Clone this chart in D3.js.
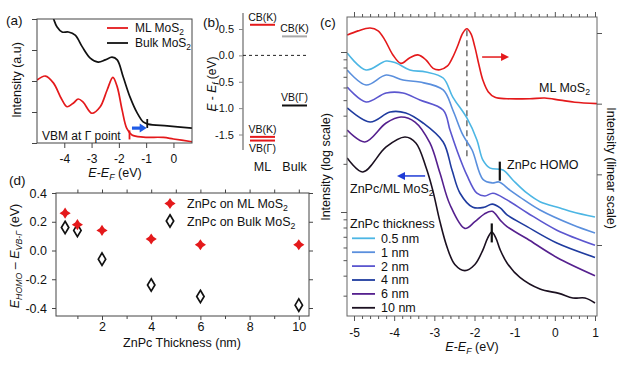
<!DOCTYPE html>
<html><head><meta charset="utf-8">
<script src="https://cdn.jsdelivr.net/npm/d3@7"></script>
<style>
html,body{margin:0;padding:0;background:#fff;}
svg{display:block;}
</style></head><body>
<svg id="chart" width="627" height="365"></svg>
<script>
// ---------------- DATA ----------------
// (a) photoemission spectra, E-EF (eV) vs intensity (a.u.)
const aML = [[-5.0,2.03],[-4.69,2.16],[-4.40,1.94],[-4.10,1.42],[-3.90,1.17],[-3.65,1.30],[-3.49,1.42],[-3.31,1.32],[-2.99,0.96],[-2.69,1.16],[-2.43,1.71],[-2.22,2.12],[-2.06,1.81],[-1.88,1.06],[-1.71,0.47],[-1.52,0.26],[-1.11,0.19],[-0.37,0.18],[0.0,0.13],[0.68,0.04]];
const aBulk = [[-4.6,4.6],[-4.39,4.0],[-4.27,3.75],[-4.08,3.58],[-3.85,3.58],[-3.60,3.48],[-3.34,3.10],[-3.05,2.74],[-2.76,2.61],[-2.50,2.68],[-2.25,2.77],[-2.06,2.68],[-1.84,2.13],[-1.59,1.48],[-1.33,0.97],[-1.11,0.68],[-0.93,0.61],[-0.23,0.55],[0.68,0.48]];
const aXTicks = [-4,-3,-2,-1,0];
const aYTicks = [0,1,2,3,4];
const aVbmML = [-1.61,0.26];
const aVbmBulk = [-0.96,0.63];
const aArrow = [-1.52,-0.98,0.48];
const aLegend = ["ML MoS", "Bulk MoS"];

// (b) band levels (eV)
const bCats = ["ML","Bulk"];
const bLevelCat = ["ML","ML","ML","Bulk","Bulk"];
const bLevelE = [0.58,-1.545,-1.615,0.36,-0.95];
const bLevelName = ["CB(K)","VB(K)","VB(Γ)","CB(K)","VB(Γ)"];
const bTicks = [-1.5,-1.0,-0.5,0.0,0.5];

// (c) spectra: E-EF (eV) vs intensity (log scale for ZnPc, linear for ML MoS2)
const cML = [[-5.17,2.97],[-4.90,3.03],[-4.60,3.07],[-4.40,3.03],[-4.23,2.90],[-4.03,2.69],[-3.83,2.57],[-3.61,2.65],[-3.41,2.69],[-3.21,2.62],[-3.03,2.50],[-2.86,2.48],[-2.68,2.53],[-2.54,2.66],[-2.41,2.83],[-2.29,3.0],[-2.19,3.06],[-2.09,2.99],[-1.99,2.80],[-1.89,2.55],[-1.79,2.33],[-1.66,2.17],[-1.49,2.09],[-1.19,2.07],[-0.62,2.07],[-0.25,2.08],[0.13,2.05],[0.50,2.02],[1.05,2.0]];
const c05 = [[-5.17,9.86],[-4.70,7.72],[-4.20,8.78],[-3.95,8.53],[-3.61,7.72],[-3.21,7.50],[-2.78,6.88],[-2.54,5.23],[-2.19,3.87],[-1.94,2.82],[-1.79,2.11],[-1.61,1.88],[-1.29,1.83],[-1.04,1.58],[-0.69,1.31],[-0.37,1.16],[0.13,1.06],[0.45,1.0],[1.0,0.93]];
const c1 = [[-5.17,7.72],[-4.70,6.22],[-4.20,7.18],[-3.78,6.68],[-3.36,6.49],[-2.78,5.79],[-2.54,4.34],[-2.29,3.03],[-2.06,2.44],[-1.79,1.60],[-1.56,1.52],[-1.39,1.54],[-1.12,1.37],[-0.87,1.24],[-0.37,1.03],[0.45,0.83],[1.0,0.74]];
const c2 = [[-5.17,6.04],[-4.70,4.87],[-4.20,5.54],[-3.78,5.54],[-3.36,5.01],[-2.78,4.34],[-2.61,3.25],[-2.44,2.44],[-2.19,1.70],[-1.94,1.31],[-1.74,1.26],[-1.54,1.31],[-1.19,1.19],[-0.69,0.99],[0.05,0.77],[1.0,0.62]];
const c4 = [[-5.17,4.47],[-4.60,3.65],[-4.10,4.22],[-3.71,4.16],[-3.28,3.60],[-2.78,2.74],[-2.56,1.83],[-2.36,1.31],[-2.04,1.07],[-1.76,1.07],[-1.56,1.12],[-1.36,1.06],[-1.19,0.96],[-0.69,0.81],[0.05,0.64],[1.0,0.52]];
const c6 = [[-5.17,3.25],[-4.73,2.74],[-4.20,3.60],[-3.83,3.92],[-3.48,3.65],[-3.11,2.70],[-2.86,1.75],[-2.61,1.11],[-2.24,0.79],[-1.99,0.87],[-1.76,0.97],[-1.56,1.01],[-1.36,0.89],[-1.19,0.81],[-0.69,0.68],[0.05,0.52],[1.0,0.40]];
const c10 = [[-5.17,2.18],[-4.78,1.78],[-4.20,2.55],[-3.73,2.94],[-3.46,2.70],[-3.21,1.91],[-3.04,1.37],[-2.86,0.87],[-2.68,0.60],[-2.49,0.47],[-2.24,0.43],[-1.99,0.47],[-1.79,0.58],[-1.67,0.69],[-1.57,0.75],[-1.47,0.69],[-1.36,0.58],[-1.19,0.48],[-0.87,0.39],[-0.37,0.33],[0.10,0.31],[0.45,0.29],[0.75,0.29],[1.0,0.27]];
const cThickLabels = ["0.5 nm","1 nm","2 nm","4 nm","6 nm","10 nm"];
const cColors = ["#4cb6e4","#5a8fdd","#5b56cf","#1f3b9f","#55208e","#1b1020"];
const cXTicks = [-5,-4,-3,-2,-1,0,1];
const cLogTicks = [0.3,0.4,0.5,0.6,0.7,0.8,0.9,1,2,3,4,5,6,7,8,9,10];
const cLinTicks = [0,1,2,3];
const cDash = [-2.19,3.04,1.25];
const cHomo = [[-1.37,1.80],[-1.57,0.74]];
const cRedArrow = [-1.81,-1.14,2.66];
const cBlueArrow = [-3.23,-3.93,1.68];

// (d) HOMO offset vs thickness
const dThick = [0.5,1,2,4,6,10];
const dML = [0.26,0.18,0.14,0.08,0.04,0.04];
const dBulk = [0.16,0.14,-0.06,-0.24,-0.32,-0.38];
const dXTicks = [2,4,6,8,10];
const dXAll = [1,2,3,4,5,6,7,8,9,10];
const dYTicks = [-0.4,-0.2,0.0,0.2,0.4];

// ---------------- HELPERS ----------------
const FONT = '"Liberation Sans", Arial, Helvetica, sans-serif';
const RED = "#e4191b";
const svg = d3.select('#chart').attr('font-family', FONT);
svg.append('rect').attr('width',627).attr('height',365).attr('fill','#fff');

function rich(g, x, y, segs, size, anchor, rot, fill) {
  const t = g.append('text')
    .attr('transform', `translate(${x},${y})` + (rot ? ` rotate(${rot})` : ''))
    .attr('font-size', size).attr('text-anchor', anchor || 'start')
    .attr('fill', fill || '#111');
  let shift = 0;
  segs.forEach(s => {
    const txt = typeof s === 'string' ? s : s[0];
    const st = typeof s === 'string' ? '' : s[1];
    const sp = t.append('tspan').text(txt);
    let target = 0;
    if (st.includes('s')) { target = size * 0.26; sp.attr('font-size', size * 0.7); }
    if (st.includes('i')) sp.attr('font-style', 'italic');
    sp.attr('dy', target - shift); shift = target;
  });
  return t;
}
function drawAxis(g, gen, tx, ty, fs, col) {
  const a = g.append('g').attr('transform', `translate(${tx},${ty})`).call(gen);
  a.attr('font-family', null).attr('font-size', null);
  a.select('.domain').remove();
  a.selectAll('.tick line').attr('stroke', col || '#444').attr('stroke-width', 1);
  a.selectAll('.tick text').attr('font-size', fs || 12).attr('fill', '#111');
  return a;
}
function clip(id, x, y, w, h) {
  svg.append('clipPath').attr('id', id).append('rect').attr('x',x).attr('y',y).attr('width',w).attr('height',h);
}
function arrow(g, x1, x2, y, col, w, hl, hw) {
  const dir = Math.sign(x2 - x1);
  g.append('line').attr('x1',x1).attr('x2',x2 - dir*hl*0.8).attr('y1',y).attr('y2',y)
    .attr('stroke',col).attr('stroke-width',w);
  g.append('path').attr('d', `M${x2},${y}L${x2-dir*hl},${y-hw}L${x2-dir*hl},${y+hw}Z`).attr('fill',col);
}

// ---------------- PANEL (a) ----------------
{
  const g = svg.append('g');
  const xA = d3.scaleLinear().domain([-5, 0.68]).range([37, 192]);
  const yA = d3.scaleLinear().domain([0, 4]).range([143, 19]);
  clip('clipA', 37, 19, 155, 124);
  const line = d3.line().x(d => xA(d[0])).y(d => yA(d[1])).curve(d3.curveCatmullRom.alpha(0.5));
  const cg = g.append('g').attr('clip-path','url(#clipA)');
  cg.append('path').attr('d', line(aBulk)).attr('fill','none').attr('stroke','#111').attr('stroke-width',1.7);
  cg.append('path').attr('d', line(aML)).attr('fill','none').attr('stroke',RED).attr('stroke-width',1.7);
  g.append('rect').attr('x',37).attr('y',19).attr('width',155).attr('height',124).attr('fill','none').attr('stroke','#444');
  drawAxis(g, d3.axisBottom(xA).tickValues(aXTicks).tickSize(5).tickPadding(6).tickFormat(d => String(d)), 0, 143, 12);
  drawAxis(g, d3.axisLeft(yA).tickValues(aYTicks).tickSize(5).tickFormat(''), 37, 0);
  // VBM markers
  [[aVbmML, RED],[aVbmBulk,'#111']].forEach(([m,c]) => {
    g.append('line').attr('x1',xA(m[0])).attr('x2',xA(m[0])).attr('y1',yA(m[1])-4.5).attr('y2',yA(m[1])+4.5)
      .attr('stroke',c).attr('stroke-width',1.8);
  });
  arrow(g, xA(aArrow[0]), xA(aArrow[1]), yA(aArrow[2]), '#1f5be6', 3.2, 7, 4.5);
  rich(g, 42, 140, ['VBM at Γ point'], 12);
  // legend
  [[RED, aLegend[0], 28],['#111', aLegend[1], 43]].forEach(([c,t,y]) => {
    g.append('line').attr('x1',107).attr('x2',128).attr('y1',y).attr('y2',y).attr('stroke',c).attr('stroke-width',1.8);
    rich(g, 135, y+4.2, [t, ['2','s']], 12);
  });
  rich(g, 6, 25, ['(a)'], 13.5);
  rich(g, 21, 80, ['Intensity (a.u)'], 12.5, 'middle', -90);
  rich(g, 115, 176.5, [['E','i'],'-',['E','i'],['F','is'],' (eV)'], 12.5, 'middle');
}

// ---------------- PANEL (b) ----------------
{
  const g = svg.append('g');
  const yB = d3.scaleLinear().domain([-1.5, 0.5]).range([134.5, 29]);
  const xB = d3.scalePoint().domain(bCats).range([262.5, 294.5]);
  g.append('line').attr('x1',243).attr('x2',243).attr('y1',13).attr('y2',150).attr('stroke','#888').attr('stroke-width',1.5);
  drawAxis(g, d3.axisLeft(yB).tickValues(bTicks).tickSize(4).tickPadding(5).tickFormat(d => d.toFixed(1)), 243, 0, 11, '#888');
  g.append('line').attr('x1',243).attr('x2',307).attr('y1',yB(0)).attr('y2',yB(0))
    .attr('stroke','#222').attr('stroke-width',1).attr('stroke-dasharray','3,3');
  bLevelE.forEach((e, i) => {
    const cat = bLevelCat[i];
    const cx = xB(cat);
    const col = cat === 'ML' ? RED : (e > 0 ? '#a8a8a8' : '#111');
    g.append('line').attr('x1',cx-12.5).attr('x2',cx+12.5).attr('y1',yB(e)).attr('y2',yB(e))
      .attr('stroke',col).attr('stroke-width',2);
    // label above, except the lower of the two close ML valence levels which goes below
    const below = cat === 'ML' && bLevelName[i] === 'VB(Γ)';
    rich(g, cx, below ? yB(e) + 11 : yB(e) - 4, [bLevelName[i]], 10.5, 'middle');
  });
  bCats.forEach(c => rich(g, xB(c), 171, [c], 12.5, 'middle'));
  rich(g, 203, 27, ['(b)'], 13.5);
  rich(g, 216, 84, [['E','i'],' - ',['E','i'],['f','is'],' (eV)'], 12, 'middle', -90);
}

// ---------------- PANEL (c) ----------------
{
  const g = svg.append('g');
  const L = 347, R = 597, T = 17, B = 316;
  const xC = d3.scaleLinear().domain([-5, 1]).range([354, 595]);
  const yL = d3.scaleLog().domain([1, 10]).range([212, 52]);
  const yR = d3.scaleLinear().domain([0, 3]).range([245, 33]);
  clip('clipC', L, T, R-L, B-T);
  const cg = g.append('g').attr('clip-path','url(#clipC)');
  const lineL = d3.line().x(d => xC(d[0])).y(d => yL(d[1])).curve(d3.curveCatmullRom.alpha(0.5));
  const lineR = d3.line().x(d => xC(d[0])).y(d => yR(d[1])).curve(d3.curveCatmullRom.alpha(0.5));
  // dashed guide
  cg.append('line').attr('x1',xC(cDash[0])).attr('x2',xC(cDash[0])).attr('y1',yR(cDash[1])).attr('y2',yR(cDash[2]))
    .attr('stroke','#777').attr('stroke-width',1.6).attr('stroke-dasharray','6,4');
  const series = [c05, c1, c2, c4, c6, c10];
  series.forEach((s, i) => {
    cg.append('path').attr('d', lineL(s)).attr('fill','none').attr('stroke',cColors[i]).attr('stroke-width',1.6);
  });
  cg.append('path').attr('d', lineR(cML)).attr('fill','none').attr('stroke',RED).attr('stroke-width',1.6);
  g.append('rect').attr('x',L).attr('y',T).attr('width',R-L).attr('height',B-T).attr('fill','none').attr('stroke','#666');
  const minor = d3.range(-25, 6).map(k => k/5).filter(v => Math.abs(v - Math.round(v)) > 1e-6);
  drawAxis(g, d3.axisBottom(xC).tickValues(cXTicks).tickSize(5).tickPadding(7).tickFormat(d => String(d)), 0, B, 12, '#555');
  drawAxis(g, d3.axisBottom(xC).tickValues(minor).tickSize(3).tickFormat(''), 0, B, 12, '#555');
  drawAxis(g, d3.axisTop(xC).tickValues(cXTicks).tickSize(5).tickFormat(''), 0, T, 12, '#555');
  drawAxis(g, d3.axisTop(xC).tickValues(minor).tickSize(3).tickFormat(''), 0, T, 12, '#555');
  drawAxis(g, d3.axisLeft(yL).tickValues(cLogTicks.filter(v => v === 1 || v === 10)).tickSize(6).tickFormat(''), L, 0, 12, '#555');
  drawAxis(g, d3.axisLeft(yL).tickValues(cLogTicks.filter(v => v !== 1 && v !== 10)).tickSize(3.5).tickFormat(''), L, 0, 12, '#555');
  drawAxis(g, d3.axisRight(yR).tickValues(cLinTicks).tickSize(5).tickFormat(''), R, 0, 12, '#555');
  // HOMO markers
  cHomo.forEach(h => {
    g.append('line').attr('x1',xC(h[0])).attr('x2',xC(h[0])).attr('y1',yL(h[1])-9.5).attr('y2',yL(h[1])+9.5)
      .attr('stroke','#111').attr('stroke-width',2.2);
  });
  rich(g, 507, 168.5, ['ZnPc HOMO'], 12.5);
  arrow(g, xC(cRedArrow[0]), xC(cRedArrow[1]), yR(cRedArrow[2]), RED, 1.5, 8, 4);
  arrow(g, xC(cBlueArrow[0]), xC(cBlueArrow[1]), yL(cBlueArrow[2]), '#1f3bd6', 1.5, 8, 4);
  rich(g, 590, 91.5, ['ML MoS', ['2','s']], 12.5, 'end');
  rich(g, 350, 192.5, ['ZnPc/ML MoS', ['2','s']], 12.5);
  // legend
  rich(g, 350, 227.5, ['ZnPc thickness'], 12.5);
  cThickLabels.forEach((t, i) => {
    const y = 238.3 + i * 13.9;
    g.append('line').attr('x1',352).attr('x2',375).attr('y1',y).attr('y2',y).attr('stroke',cColors[i]).attr('stroke-width',1.8);
    rich(g, 381, y + 4.4, [t], 12.5);
  });
  rich(g, 320, 27, ['(c)'], 13.5);
  rich(g, 330, 167, ['Intensity (log scale)'], 12.5, 'middle', -90);
  rich(g, 607, 168, ['Intensity (linear scale)'], 12.5, 'middle', 90);
  rich(g, 472, 350.5, [['E','i'],'-',['E','i'],['F','is'],' (eV)'], 12.5, 'middle');
}

// ---------------- PANEL (d) ----------------
{
  const g = svg.append('g');
  const L = 56, R = 309, T = 193, B = 316;
  const xD = d3.scaleLinear().domain([0, 10]).range([52.8, 298.8]);
  const yD = d3.scaleLinear().domain([-0.4, 0.4]).range([308, 193]);
  g.append('rect').attr('x',L).attr('y',T).attr('width',R-L).attr('height',B-T).attr('fill','none').attr('stroke','#444');
  drawAxis(g, d3.axisBottom(xD).tickValues(dXTicks).tickSize(4).tickPadding(2).tickFormat(d => String(d)), 0, B, 12.5);
  drawAxis(g, d3.axisBottom(xD).tickValues(dXAll.filter(v => v % 2)).tickSize(3).tickFormat(''), 0, B);
  drawAxis(g, d3.axisTop(xD).tickValues(dXAll).tickSize(3.5).tickFormat(''), 0, T);
  drawAxis(g, d3.axisLeft(yD).tickValues(dYTicks).tickSize(4).tickPadding(5).tickFormat(d => d.toFixed(1)), L, 0, 12.5);
  drawAxis(g, d3.axisRight(yD).tickValues(dYTicks).tickSize(4).tickFormat(''), R, 0);
  const star = r => { const w = r*0.4; return `M0,${-r}L${w},${-w}L${r},0L${w},${w}L0,${r}L${-w},${w}L${-r},0L${-w},${-w}Z`; };
  const diamond = 'M0,-6.2L3.7,0L0,6.2L-3.7,0Z';
  dThick.forEach((t, i) => {
    g.append('path').attr('d', diamond).attr('transform',`translate(${xD(t)},${yD(dBulk[i])})`)
      .attr('fill','#fff').attr('stroke','#111').attr('stroke-width',1.7);
    g.append('path').attr('d', star(5.6)).attr('transform',`translate(${xD(t)},${yD(dML[i])})`).attr('fill',RED);
  });
  // legend
  g.append('path').attr('d', star(5.6)).attr('transform','translate(170,203.5)').attr('fill',RED);
  rich(g, 187, 208, ['ZnPc on ML MoS', ['2','s']], 12.5);
  g.append('path').attr('d', diamond).attr('transform','translate(170,221)').attr('fill','#fff').attr('stroke','#111').attr('stroke-width',1.7);
  rich(g, 187, 226, ['ZnPc on Bulk MoS', ['2','s']], 12.5);
  rich(g, 9, 185, ['(d)'], 13.5);
  rich(g, 19, 256, [['E','i'],['HOMO','is'],' – ',['E','i'],['VB-Γ','is'],' (eV)'], 12.5, 'middle', -90);
  rich(g, 182, 347, ['ZnPc Thickness (nm)'], 12.5, 'middle');
}
</script>
</body></html>
